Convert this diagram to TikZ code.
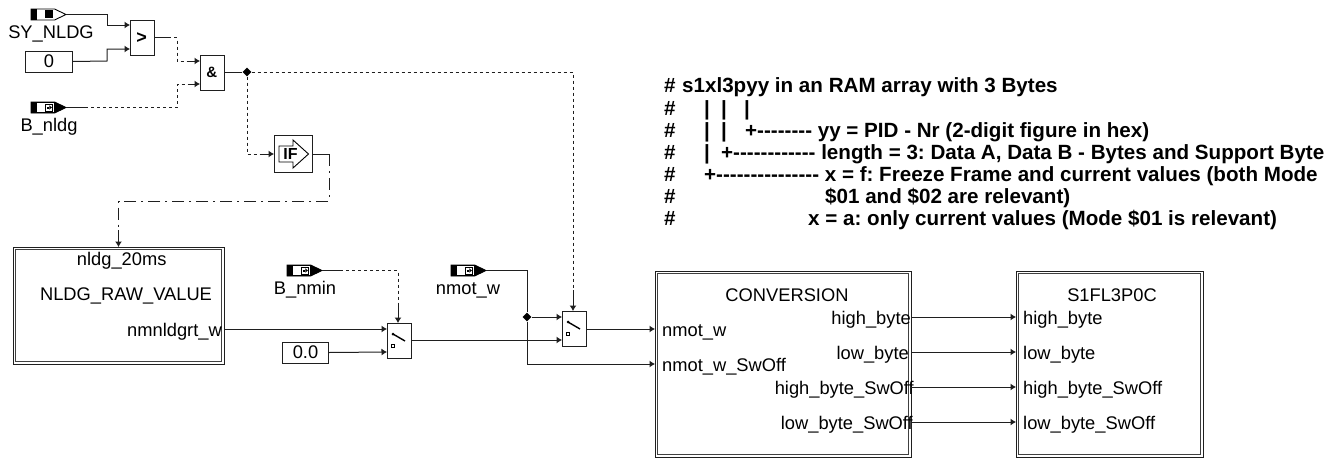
\documentclass[tikz,border=0pt]{standalone}
\usepackage{fontspec}
\setmainfont{Liberation Sans}
\usetikzlibrary{arrows.meta,shapes.geometric}
\definecolor{ln}{gray}{0.12}
\tikzset{
 x=1pt,y=-1pt,
 wire/.style={line width=1pt,draw=ln,-{Latex[length=5.5pt,width=7pt]}},
 plainwire/.style={line width=1pt,draw=ln},
 dashw/.style={line width=1pt,draw=ln,dash pattern=on 3pt off 3pt},
 dashdot/.style={line width=1pt,draw=ln,dash pattern=on 12pt off 5pt on 2pt off 5pt},
 box/.style={draw=ln,line width=1pt,fill=white,inner sep=0pt,anchor=north west},
 lbl/.style={font=\fontsize{18.3}{20}\selectfont,inner sep=0pt,text=black,anchor=base},
 lble/.style={lbl,anchor=base east},
 lblw/.style={lbl,anchor=base west},
 cmt/.style={font=\fontsize{20.6}{22}\selectfont\bfseries\frenchspacing,inner sep=0pt,anchor=base west,text=black},
 dot/.style={fill=black,draw=none,minimum size=9pt,inner sep=0pt,shape=diamond},
}
% double frame
\newcommand{\dblbox}[5]{% name x1 y1 x2 y2
 \node[box,minimum width=#4pt-#2pt,minimum height=#5pt-#3pt,line width=0.9pt,draw=ln] (#1) at (#2,#3) {};
 \draw[line width=1.1pt,draw=ln!85] (#2+2.2,#3+2.2) rectangle (#4-2.2,#5-2.2);
}
% input port
\newcommand{\inport}[4]{% name x ycentre fillTriangle
 \draw[line width=0.9pt,draw=black,fill=#4] (#2,#3-5.5) -- (#2+23.5,#3-5.5) -- (#2+35,#3) -- (#2+23.5,#3+5.5) -- (#2,#3+5.5) -- cycle;
 \fill[black] (#2,#3-5.5) rectangle (#2+5.5,#3+5.5);
 \fill[white] (#2+5.5,#3-4.5) rectangle (#2+23,#3+4.5);
 \coordinate (#1) at (#2+35,#3);
}
\newcommand{\portarrow}[2]{% x y centre of glyph
 \draw[line width=0.8pt,fill=white,draw=black] (#1-3.8,#2-3.6) rectangle (#1+3.8,#2+3.6);
 \fill[black] (#1-2.4,#2-1) rectangle (#1+0.4,#2+1);
 \fill[black] (#1+0.4,#2-2.2) -- (#1+2.8,#2) -- (#1+0.4,#2+2.2) -- cycle;
}
\newcommand{\switchsym}[2]{% x y top-left of block
 \draw[line width=1.4pt,draw=black] (#1+6,#2+11) -- (#1+18,#2+18);
 \fill[black] (#1+6,#2+11) circle (1.5);
 \draw[line width=0.8pt,draw=black] (#1+4.5,#2+21.5) rectangle (#1+7.5,#2+24.5);
}
\begin{document}
\begin{tikzpicture}
\useasboundingbox (0,0) rectangle (1339,458);
\fill[white] (0,0) rectangle (1339,458);
% inports
\inport{synldg}{31}{14.5}{white}
\fill[black] (45,10.3) rectangle (52.7,17.7);
\inport{bnldg}{31}{107.5}{black}
\portarrow{49}{107.5}
\inport{bnmin}{287}{270.5}{black}
\portarrow{305}{270.5}
\inport{nmotin}{451}{270.5}{black}
\portarrow{469}{270.5}
\node[lbl] (lsy) at (51,38) {SY\_NLDG};
\node[lbl] (lbn) at (49,131.5) {B\_nldg};
\node[lbl] (lbm) at (305,294) {B\_nmin};
\node[lbl] (lnm) at (468,294) {nmot\_w};
% simple blocks
\node[box,minimum width=47pt,minimum height=21pt] (zero) at (25,50.5) {};
\node[lbl] (zerot) at (49,67.5) {0};
\node[box,minimum width=46pt,minimum height=21pt] (zerod) at (282,341.5) {};
\node[lbl] (zerodt) at (305.5,358.5) {0.0};
\node[box,minimum width=24pt,minimum height=35pt] (gt) at (130,20) {};
\node[font=\fontsize{18}{18}\selectfont\bfseries,inner sep=0pt] (gtt) at (141.7,38) {>};
\node[box,minimum width=24pt,minimum height=35pt] (and) at (200,55) {};
\node[font=\fontsize{15}{15}\selectfont\bfseries,inner sep=0pt] (andt) at (211.7,72.5) {\&};
\node[box,minimum width=38pt,minimum height=37pt] (ifb) at (274.3,135.3) {};
\draw[line width=0.9pt,draw=black] (293,146) -- (279,146) -- (279,162) -- (293,162) -- (293,168) -- (308.5,154) -- (293,140) -- cycle;
\node[font=\fontsize{16}{16}\selectfont\bfseries,inner sep=0pt] (ift) at (290.5,154) {IF};
\node[box,minimum width=24pt,minimum height=35pt] (sw1) at (387,323) {};
\switchsym{387}{323}
\node[box,minimum width=24pt,minimum height=35pt] (sw2) at (562,311) {};
\switchsym{562}{311}
% frames
\dblbox{nldg}{13}{247}{224}{364}
\node[lbl] (n1) at (121.7,265) {nldg\_20ms};
\node[lbl] (n2) at (126,300.5) {NLDG\_RAW\_VALUE};
\node[lble] (n3) at (222,336) {nmnldgrt\_w};
\dblbox{conv}{655}{271}{911}{457}
\node[lbl] (c1) at (787,301) {CONVERSION};
\node[lblw] (c2) at (662,336.5) {nmot\_w};
\node[lblw] (c3) at (662,371.5) {nmot\_w\_SwOff};
\node[lble] (c4) at (911,324) {high\_byte};
\node[lble] (c5) at (909,359) {low\_byte};
\node[lble] (c6) at (914,394) {high\_byte\_SwOff};
\node[lble] (c7) at (913,429) {low\_byte\_SwOff};
\dblbox{s1}{1016}{271}{1203}{457}
\node[lbl] (s0) at (1112,301) {S1FL3P0C};
\node[lblw] (s2) at (1023,324) {high\_byte};
\node[lblw] (s3) at (1023,359) {low\_byte};
\node[lblw] (s4) at (1023,394) {high\_byte\_SwOff};
\node[lblw] (s5) at (1023,429) {low\_byte\_SwOff};
% junctions
\node[dot] (j1) at (247,72) {};
\node[dot] (j2) at (527,317) {};
% named ports on block edges
\coordinate (gtA) at (130,25); \coordinate (gtB) at (130,49); \coordinate (gtO) at (154,37.5);
\coordinate (anA) at (200,61); \coordinate (anB) at (200,84); \coordinate (anO) at (224,72);
\coordinate (ifI) at (274,154); \coordinate (ifO) at (312.3,154);
\coordinate (swA) at (387,329); \coordinate (swB) at (387,352); \coordinate (swC) at (398,323); \coordinate (swO) at (411,340);
\coordinate (svA) at (562,317); \coordinate (svB) at (562,340); \coordinate (svC) at (573,311); \coordinate (svO) at (586,329);
\coordinate (nlO) at (224,329); \coordinate (nlI) at (118.5,247);
\coordinate (cvA) at (655,329); \coordinate (cvB) at (655,364);
% wires
\draw[wire] (synldg) -- (107,14.5) -- (107,25) -- (gtA);
\draw[wire] (zero.east) -- (107,61) -- (107,49) -- (gtB);
\draw[plainwire] (gtO) -- (168,37.5);
\draw[dashw] (168,37.5) -- (177,37.5) -- (177,61) -- (190,61);
\draw[wire] (190,61) -- (anA);
\draw[plainwire] (bnldg) -- (85,107.5);
\draw[dashw] (85,107.5) -- (177,107.5) -- (177,84) -- (190,84);
\draw[wire] (190,84) -- (anB);
\draw[plainwire] (anO) -- (j1);
\draw[dashw] (j1) -- (573,72) -- (573,290);
\draw[wire] (573,290) -- (svC);
\draw[dashw] (j1) -- (247,154) -- (260,154);
\draw[wire] (260,154) -- (ifI);
\draw[plainwire] (ifO) -- (329,154);
\draw[dashdot] (329,154) -- (329,201) -- (118.5,201) -- (118.5,230);
\draw[wire] (118.5,230) -- (nlI);
\draw[plainwire] (bnmin) -- (340,270.5);
\draw[dashw] (340,270.5) -- (398,270.5) -- (398,303);
\draw[wire] (398,303) -- (swC);
\draw[wire] (nlO) -- (swA);
\draw[wire] (zerod.east) -- (swB);
\draw[wire] (swO) -- (svB);
\draw[plainwire] (nmotin) -- (527,270.5) -- (j2);
\draw[wire] (j2) -- (svA);
\draw[wire] (j2) -- (527,364) -- (cvB);
\draw[wire] (svO) -- (cvA);
\foreach \yy in {317,352,387,422}{\draw[wire] (911,\yy) -- (1016,\yy);}
% comment
\node[cmt] (c0) at (664,92) {\#};
\node[cmt] (c00) at (682,92) {s1xl3pyy in an RAM array with 3 Bytes};
\foreach \yy/\nn in {115/a,137/b,159/c,181/d,203/e,225/f}{\node[cmt] (h\nn) at (664,\yy) {\#};}
\node[cmt] (t1) at (704,115) {|};
\node[cmt] (t2) at (721,115) {|};
\node[cmt] (t3) at (744,115) {|};
\node[cmt] (t4) at (704,137) {|};
\node[cmt] (t5) at (721,137) {|};
\node[cmt] (t6) at (745,137) {+-{}-{}-{}-{}-{}-{}-{}-{} yy = PID - Nr (2-digit figure in hex)};
\node[cmt] (t7) at (704,159) {|};
\node[cmt] (t8) at (721,159) {+-{}-{}-{}-{}-{}-{}-{}-{}-{}-{}-{}-{} length = 3: Data A, Data B - Bytes and Support Byte};
\node[cmt] (t9) at (704,181) {+-{}-{}-{}-{}-{}-{}-{}-{}-{}-{}-{}-{}-{}-{}-{} x = f: Freeze Frame and current values (both Mode};
\node[cmt] (t10) at (825,203) {\$01 and \$02 are relevant)};
\node[cmt] (t11) at (808,225) {x = a: only current values (Mode \$01 is relevant)};
\end{tikzpicture}
\end{document}
